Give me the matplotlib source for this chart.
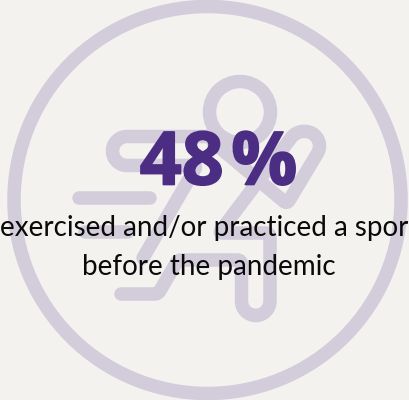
import matplotlib
matplotlib.use("Agg")
import numpy as np
import matplotlib.pyplot as plt
import matplotlib.patheffects as pe
from matplotlib.patches import Circle, PathPatch
from matplotlib.path import Path

headline = "48\u200a%"
caption_lines = ["exercised and/or practiced a sport", "before the pandemic"]
BG = "#f3f2ef"
ICON = "#d3ccdb"
PURPLE = "#4b2e83"
LW = 13.5 * 72 / 100

ring = (207.5, 200, 193.5)
head = (240, 112, 30.5)
# icon strokes: (x, y, corner radius)
strokes = [
    [(213, 136.5, 0), (112.5, 136.5, 14.5), (112.5, 165.5, 14.5), (197, 165.5, 4), (143, 258, 0)],
    [(213, 142, 0), (287, 204, 4), (324.9, 140.9, 14.5), (299.9, 126.1, 14.5), (219, 233, 3),
     (270, 233, 4), (270, 315.5, 14.3), (241.5, 315.5, 14.3), (241.5, 260, 4), (178, 260, 3),
     (158, 294, 3), (121, 294, 0)],
    [(79.5, 198, 0), (150, 198, 0)],
    [(85, 232, 0), (128, 232, 0)],
]


def rounded(points):
    k = 0.5523
    verts, codes = [], []
    pts = np.array(points, float)
    for i, (x, y, r) in enumerate(pts):
        p = np.array([x, y])
        if r == 0:
            verts.append(p)
            codes.append(Path.MOVETO if i == 0 else Path.LINETO)
            continue
        a = pts[i - 1][:2] - p
        b = pts[i + 1][:2] - p
        a /= np.linalg.norm(a)
        b /= np.linalg.norm(b)
        verts += [p + a * r, p + a * r * (1 - k), p + b * r * (1 - k), p + b * r]
        codes += [Path.LINETO, Path.CURVE4, Path.CURVE4, Path.CURVE4]
    return Path(verts, codes)


fig = plt.figure(figsize=(4.10, 4.00), dpi=100, facecolor=BG)
ax = fig.add_axes([0, 0, 1, 1])
ax.set_xlim(0, 410)
ax.set_ylim(400, 0)
ax.axis("off")
ax.add_patch(Circle(ring[:2], ring[2], fill=False, ec=ICON, lw=LW))
ax.add_patch(Circle(head[:2], head[2], fill=False, ec=ICON, lw=LW))
for seg in strokes:
    ax.add_patch(PathPatch(rounded(seg), fill=False, ec=ICON, lw=LW, capstyle="round", joinstyle="round"))
ax.text(218.5, 184.5, headline, ha="center", va="baseline", color=PURPLE, fontsize=53, fontweight="bold",
        family=["Open Sans", "DejaVu Sans"],
        path_effects=[pe.withStroke(linewidth=1.2, foreground=PURPLE)])
ax.text(209, 236, caption_lines[0], ha="center", va="baseline", color="#0a0a0a", fontsize=20, family="Lato", clip_on=True)
ax.text(209, 275, caption_lines[1], ha="center", va="baseline", color="#0a0a0a", fontsize=20, family="Lato", clip_on=True)
fig.savefig("out.png", dpi=100, facecolor=BG)
